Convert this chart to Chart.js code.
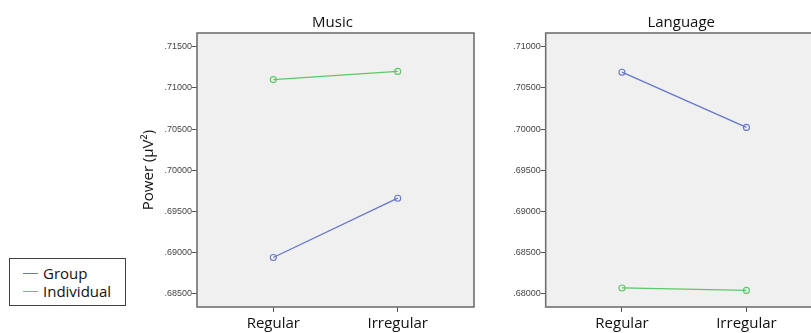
<!DOCTYPE html>
<html>
<head>
<meta charset="utf-8">
<title>Power by condition</title>
<script src="https://cdn.jsdelivr.net/npm/chart.js@4/dist/chart.umd.min.js"></script>
<style>
  html, body { margin: 0; padding: 0; background: #fff; width: 811px; height: 333px; overflow: hidden; position: relative; }
  canvas { position: absolute; top: 0; }
  #music { left: 0; }
  #language { left: 480px; }
  #legend {
    position: absolute; left: 9px; top: 258px; width: 117px; height: 48px;
    border: 1px solid #404040; box-sizing: border-box; background: #fff;
    font: 15px "Open Sans", sans-serif; color: #111; padding-top: 5px;
  }
  #legend .item { display: flex; align-items: center; height: 18px; line-height: 18px; padding-left: 13px; }
  #legend .swatch { display: inline-block; width: 15px; height: 0; border-top: 1.3px solid; margin-right: 5px; }
</style>
</head>
<body>
<canvas id="music" width="480" height="333"></canvas>
<canvas id="language" width="350" height="333"></canvas>
<div id="legend">
  <div class="item"><span class="swatch" style="border-color:#6677cc"></span>Group</div>
  <div class="item"><span class="swatch" style="border-color:#5cc866"></span>Individual</div>
</div>
<script>
// Conditions on the x axis
const conditions = ['Regular', 'Irregular'];

// Mean power (µV²) per condition
const musicGroup = [0.6894, 0.6966];
const musicIndividual = [0.7110, 0.7120];
const languageGroup = [0.7069, 0.7002];
const languageIndividual = [0.6807, 0.6804];

// Y tick values for each panel
const musicTicks = [0.685, 0.690, 0.695, 0.700, 0.705, 0.710, 0.715];
const languageTicks = [0.680, 0.685, 0.690, 0.695, 0.700, 0.705, 0.710];

const groupColor = '#6677cc';
const individualColor = '#5cc866';
const fontFamily = '"Open Sans", sans-serif';

// Grey plot background plus a full frame around the plot area, and the panel title
const panelFrame = {
  id: 'panelFrame',
  beforeDatasetsDraw(chart) {
    const { ctx, chartArea: a } = chart;
    ctx.save();
    ctx.fillStyle = '#f0f0f0';
    ctx.fillRect(a.left, a.top, a.right - a.left, a.bottom - a.top);
    ctx.restore();
  },
  afterDraw(chart, args, opts) {
    const { ctx, chartArea: a } = chart;
    ctx.save();
    ctx.strokeStyle = '#707070';
    ctx.lineWidth = 1.6;
    ctx.strokeRect(a.left, a.top, a.right - a.left, a.bottom - a.top);
    ctx.fillStyle = '#111';
    ctx.font = '15px ' + fontFamily;
    ctx.textAlign = 'center';
    ctx.textBaseline = 'alphabetic';
    ctx.fillText(opts.title, (a.left + a.right) / 2 - 3, 26.5);
    if (opts.yTitle) {
      ctx.translate(153, (a.top + a.bottom) / 2);
      ctx.rotate(-Math.PI / 2);
      ctx.fillText(opts.yTitle, 0, 0);
    }
    ctx.restore();
  }
};

function tickLabel(v) {
  return v.toFixed(5).replace(/^0/, '');
}

function makePanel(canvasId, title, yTitle, groupVals, indivVals, ticks, yMin, yMax, padLeft, padRight) {
  const points = vals => vals.map((v, i) => ({ x: i, y: v }));
  return new Chart(document.getElementById(canvasId), {
    type: 'line',
    data: {
      datasets: [
        { label: 'Group', data: points(groupVals), borderColor: groupColor, pointBorderColor: groupColor },
        { label: 'Individual', data: points(indivVals), borderColor: individualColor, pointBorderColor: individualColor }
      ]
    },
    options: {
      responsive: false,
      animation: false,
      devicePixelRatio: 1,
      layout: { padding: { left: padLeft, right: padRight, top: 33, bottom: 0 } },
      elements: {
        line: { borderWidth: 1.3, tension: 0 },
        point: { radius: 3, borderWidth: 1.1, backgroundColor: 'rgba(0,0,0,0)', pointStyle: 'circle' }
      },
      plugins: {
        legend: { display: false },
        tooltip: { enabled: false },
        panelFrame: { title: title, yTitle: yTitle }
      },
      scales: {
        x: {
          type: 'linear',
          min: -0.613,
          max: 1.613,
          afterBuildTicks: s => { s.ticks = conditions.map((c, i) => ({ value: i })); },
          afterFit: s => { s.height = 26; },
          ticks: {
            callback: v => conditions[v],
            color: '#111',
            font: { family: fontFamily, size: 15 },
            padding: 3,
            maxRotation: 0
          },
          grid: { drawOnChartArea: false, drawTicks: true, tickLength: 5, color: '#555', lineWidth: 1 },
          border: { display: false }
        },
        y: {
          type: 'linear',
          min: yMin,
          max: yMax,
          afterBuildTicks: s => { s.ticks = ticks.map(v => ({ value: v })); },
          afterFit: s => { s.width = 45; },
          ticks: {
            callback: v => tickLabel(v),
            color: '#444',
            font: { family: '"Liberation Sans", sans-serif', size: 9 },
            padding: 0
          },
          grid: { drawOnChartArea: false, drawTicks: true, tickLength: 5, color: '#555', lineWidth: 1 },
          border: { display: false }
        }
      }
    },
    plugins: [panelFrame]
  });
}

makePanel('music', 'Music', 'Power (µV²)', musicGroup, musicIndividual, musicTicks, 0.683387, 0.716662, 152, 6);
makePanel('language', 'Language', '', languageGroup, languageIndividual, languageTicks, 0.678387, 0.711662, 20.7, 7.3);
</script>
</body>
</html>
